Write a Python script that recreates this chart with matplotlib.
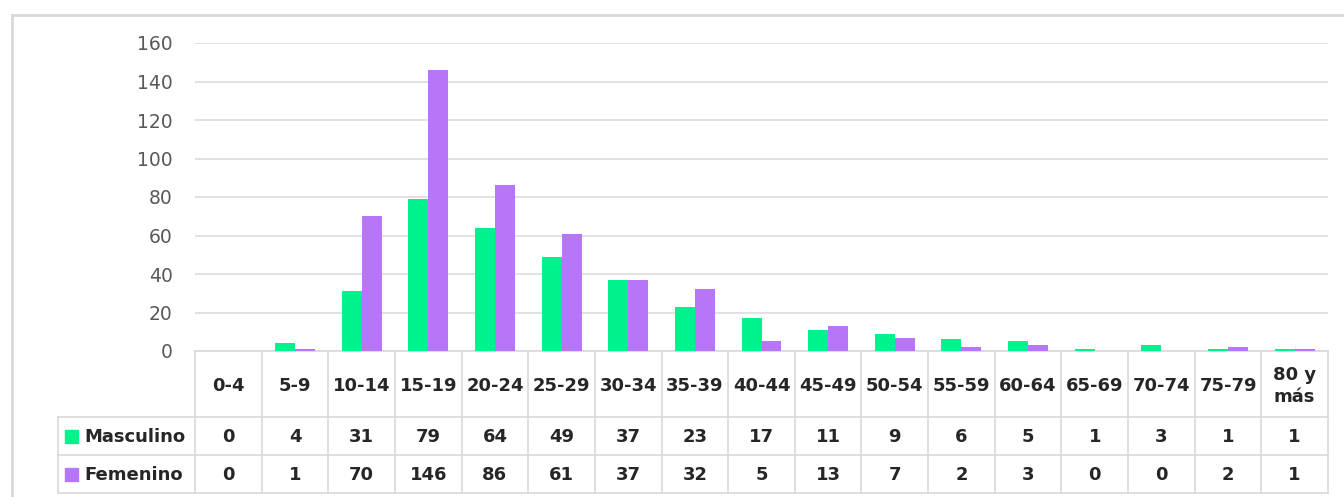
import matplotlib
matplotlib.use("Agg")
import matplotlib.pyplot as plt
import numpy as np
from matplotlib.patches import Rectangle
from matplotlib.lines import Line2D

categories = ["0-4", "5-9", "10-14", "15-19", "20-24", "25-29", "30-34", "35-39",
              "40-44", "45-49", "50-54", "55-59", "60-64", "65-69", "70-74", "75-79", "80 y\nmás"]
masculino = [0, 4, 31, 79, 64, 49, 37, 23, 17, 11, 9, 6, 5, 1, 3, 1, 1]
femenino = [0, 1, 70, 146, 86, 61, 37, 32, 5, 13, 7, 2, 3, 0, 0, 2, 1]
series_names = ["Masculino", "Femenino"]
yticks = [0, 20, 40, 60, 80, 100, 120, 140, 160]

GREEN = "#00F28C"
PURPLE = "#B775F8"
GRID = "#D9D9D9"
TXT = "#595959"

W, H = 1344, 497
fig = plt.figure(figsize=(W / 100, H / 100), dpi=100)
plt.rcParams['font.family'] = ['DejaVu Sans']

ax_l, ax_r, ax_t, ax_b = 195, 1328, 43, 351
ax = fig.add_axes([ax_l / W, 1 - ax_b / H, (ax_r - ax_l) / W, (ax_b - ax_t) / H])

n = len(categories)
x = np.arange(n)
bw = 0.3
ax.bar(x - bw / 2, masculino, bw, color=GREEN, zorder=3)
ax.bar(x + bw / 2, femenino, bw, color=PURPLE, zorder=3)
ax.set_xlim(-0.5, n - 0.5)
ax.set_ylim(0, 160)
ax.set_yticks(yticks)
ax.set_yticklabels([str(v) for v in yticks], color=TXT, fontsize=13.5)
ax.tick_params(axis='y', length=0, pad=16)
ax.set_xticks([])
ax.grid(axis='y', color=GRID, linewidth=1.1, zorder=0)
for s in ["top", "right", "left"]:
    ax.spines[s].set_visible(False)
ax.spines["bottom"].set_color(GRID)
ax.spines["bottom"].set_linewidth(1.2)

# Table below axes, drawn in figure pixel coordinates
def fx(px):
    return px / W

def fy(py):
    return 1 - py / H

cell_w = (ax_r - ax_l) / n
row_y = [351, 417, 455, 493]
tbl_left = 58
lw = 1.2
TCOL = '#262626'
TFS = 13

def hline(y, x0, x1):
    fig.add_artist(Line2D([fx(x0), fx(x1)], [fy(y), fy(y)], color=GRID, lw=lw))

def vline(x0, y0, y1):
    fig.add_artist(Line2D([fx(x0), fx(x0)], [fy(y0), fy(y1)], color=GRID, lw=lw))

hline(417, tbl_left, ax_r)
hline(455, tbl_left, ax_r)
hline(493, tbl_left, ax_r)
for k in range(n + 1):
    vline(ax_l + k * cell_w, 351, 493)
vline(tbl_left, 417, 493)

for k, cat in enumerate(categories):
    cx = ax_l + (k + 0.5) * cell_w
    fig.text(fx(cx), fy((351 + 417) / 2 + 2), cat, ha='center', va='center',
             fontsize=TFS, fontweight='bold', color=TCOL, linespacing=1.25)
    fig.text(fx(cx), fy((417 + 455) / 2 + 1), str(masculino[k]), ha='center', va='center',
             fontsize=TFS, fontweight='bold', color=TCOL)
    fig.text(fx(cx), fy((455 + 493) / 2 + 1), str(femenino[k]), ha='center', va='center',
             fontsize=TFS, fontweight='bold', color=TCOL)

for i, (name, col) in enumerate(zip(series_names, [GREEN, PURPLE])):
    yc = (row_y[i + 1] + row_y[i + 2]) / 2 + 1
    fig.add_artist(Rectangle((fx(65), fy(yc + 6)), 13 / W, 13 / H, color=col,
                             transform=fig.transFigure))
    fig.text(fx(84), fy(yc), name, ha='left', va='center', fontsize=TFS,
             fontweight='bold', color=TCOL)

# outer chart border (top and left edges only, as in the reference crop)
fig.add_artist(Line2D([fx(12), fx(12)], [fy(15), 0], color=GRID, lw=2))
fig.add_artist(Line2D([fx(12), 1], [fy(15), fy(15)], color=GRID, lw=2))

fig.savefig("out.png", dpi=100, facecolor="white")
